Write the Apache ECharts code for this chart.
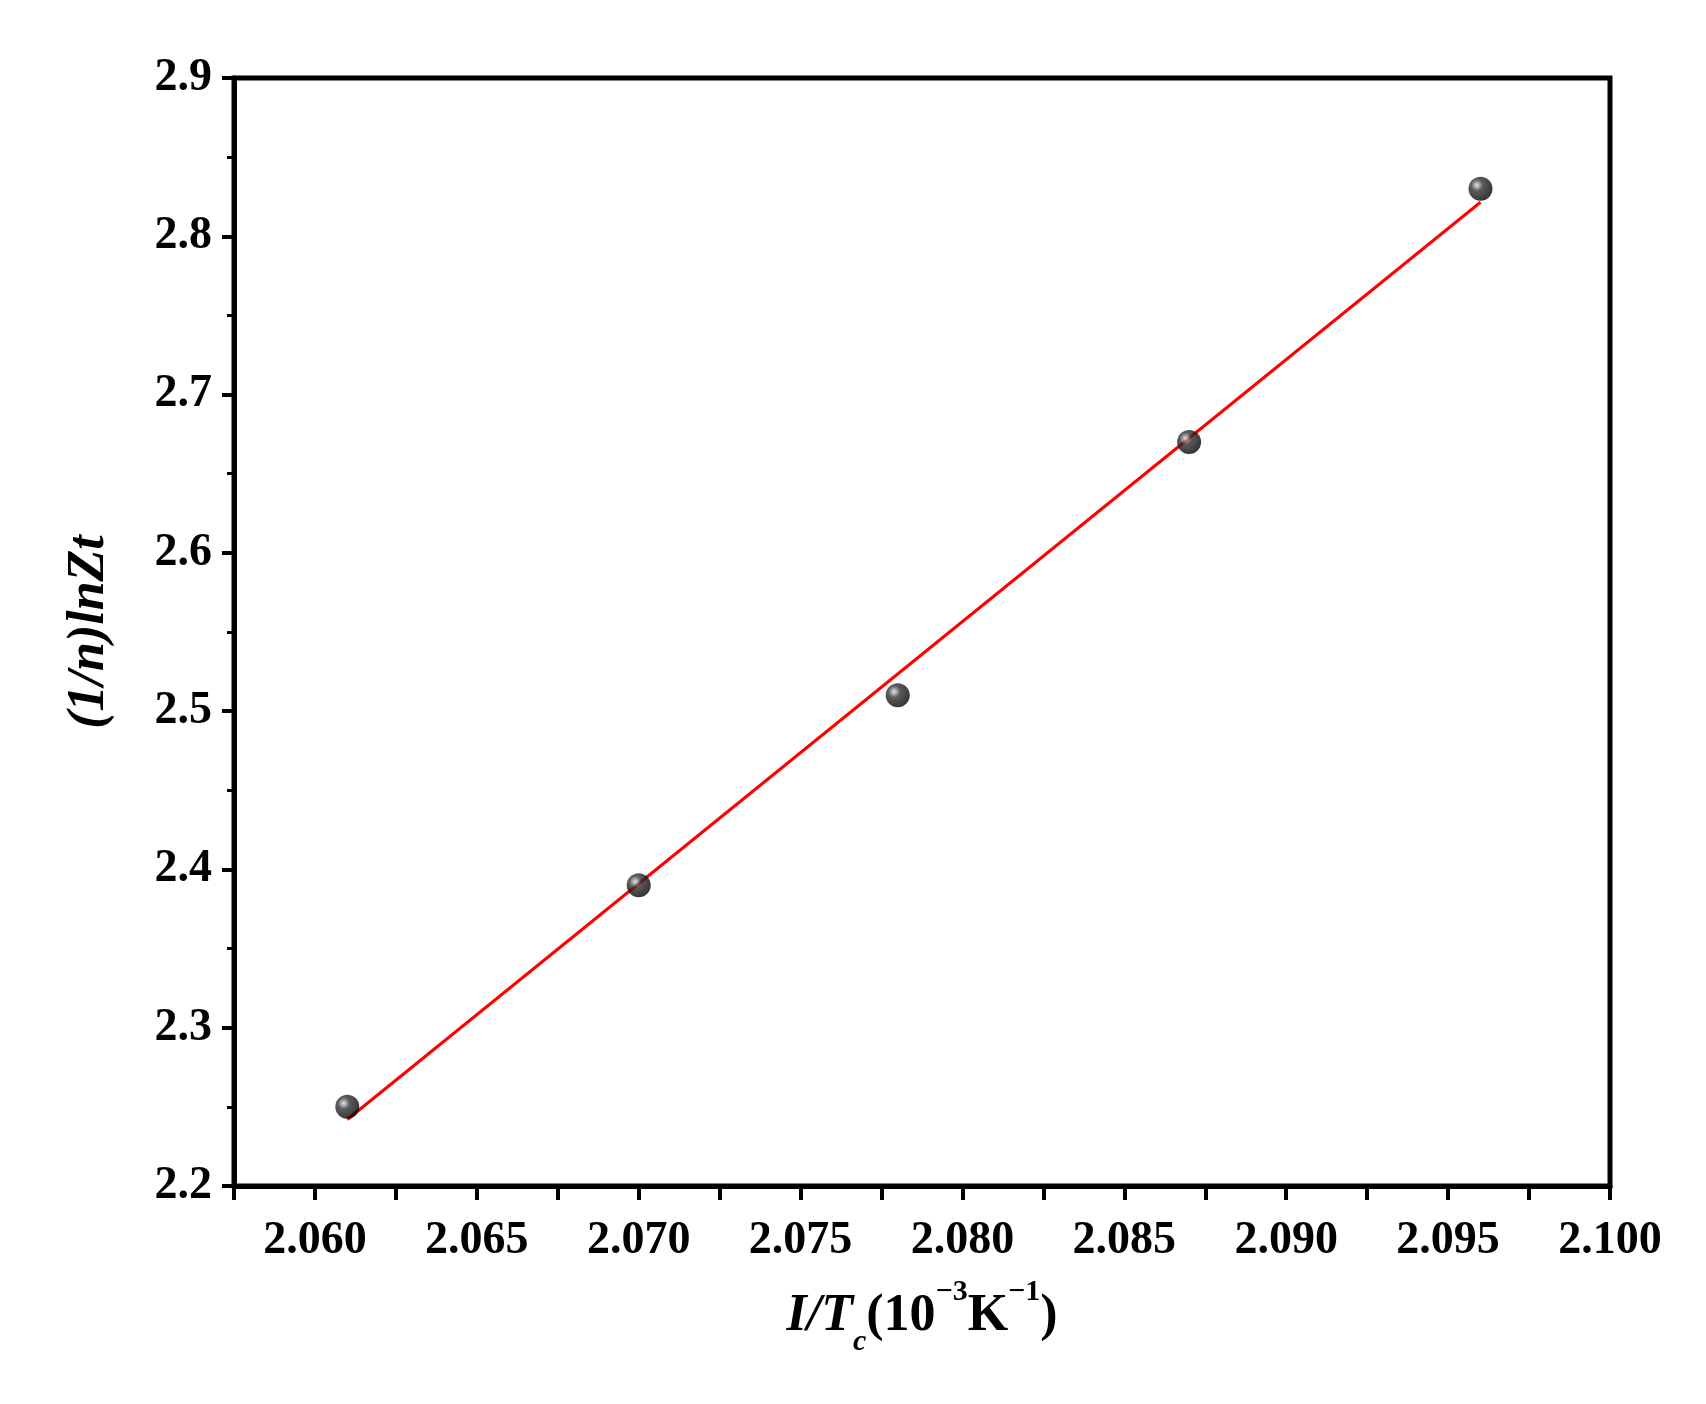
<!DOCTYPE html>
<html><head><meta charset="utf-8">
<script src="https://cdn.jsdelivr.net/npm/echarts@6/dist/echarts.min.js"></script>
<style>html,body{margin:0;background:#fff}#c{width:1706px;height:1404px}</style></head>
<body><div id="c"></div>
<script>
const xValues=[2.061,2.070,2.078,2.087,2.096];
const yValues=[2.25,2.39,2.51,2.67,2.83];
const fitX=[2.061,2.096];
const fitY=[2.242,2.8215];
const F='"Liberation Serif","Times New Roman",serif';
const chart=echarts.init(document.getElementById('c'));
chart.setOption({
  animation:false,
  backgroundColor:'#fff',
  grid:{left:234,right:96,top:78,bottom:218},
  xAxis:{type:'value',min:2.0575,max:2.1,interval:0.0025,
    name:'{i|I/T}{s|c}{n|(10}{sup|−3}{n|K}{sup|−1}{n|)}',nameLocation:'middle',nameGap:105,
    nameTextStyle:{rich:{i:{fontFamily:F,fontStyle:'italic',fontWeight:'bold',fontSize:52,color:'#000'},
      s:{fontFamily:F,fontStyle:'italic',fontWeight:'bold',fontSize:30,color:'#000',verticalAlign:'bottom',padding:[0,0,-14,0]},
      n:{fontFamily:F,fontWeight:'bold',fontSize:52,color:'#000'},
      sup:{fontFamily:F,fontWeight:'bold',fontSize:30,color:'#000',verticalAlign:'top',padding:[-14,0,0,0]}}},
    axisLine:{onZero:false,lineStyle:{color:'#000',width:5}},
    axisTick:{inside:false,length:14,lineStyle:{color:'#000',width:4}},
    axisLabel:{margin:32,fontFamily:F,fontWeight:'bold',fontSize:46,color:'#000',
      formatter:v=>{const k=Math.round(v*10000);return k%50===0?v.toFixed(3):'';}},
    splitLine:{show:false}},
  yAxis:{type:'value',min:2.2,max:2.9,interval:0.1,
    name:'{i|(1/n)lnZt}',nameLocation:'middle',nameGap:118,
    nameTextStyle:{rich:{i:{fontFamily:F,fontStyle:'italic',fontWeight:'bold',fontSize:52,color:'#000'}}},
    axisLine:{onZero:false,lineStyle:{color:'#000',width:5}},
    axisTick:{inside:false,length:12,lineStyle:{color:'#000',width:4}},
    minorTick:{show:true,splitNumber:2,length:7,lineStyle:{color:'#000',width:3}},
    axisLabel:{margin:22,fontFamily:F,fontWeight:'bold',fontSize:46,color:'#000',formatter:v=>v.toFixed(1)},
    splitLine:{show:false}},
  graphic:[{type:'rect',shape:{x:234,y:78,width:1376,height:1108},style:{fill:'none',stroke:'#000',lineWidth:5},z:100}],
  series:[
    {type:'line',data:fitX.map((x,i)=>[x,fitY[i]]),symbol:'none',lineStyle:{color:'#ff0000',width:3},z:2},
    {type:'scatter',data:xValues.map((x,i)=>[x,yValues[i]]),symbolSize:24,z:3,
     itemStyle:{color:{type:'radial',x:0.35,y:0.35,r:0.7,colorStops:[{offset:0,color:'#ddd'},{offset:0.35,color:'#333'},{offset:1,color:'#000'}]}}}
  ]
});
</script></body></html>
